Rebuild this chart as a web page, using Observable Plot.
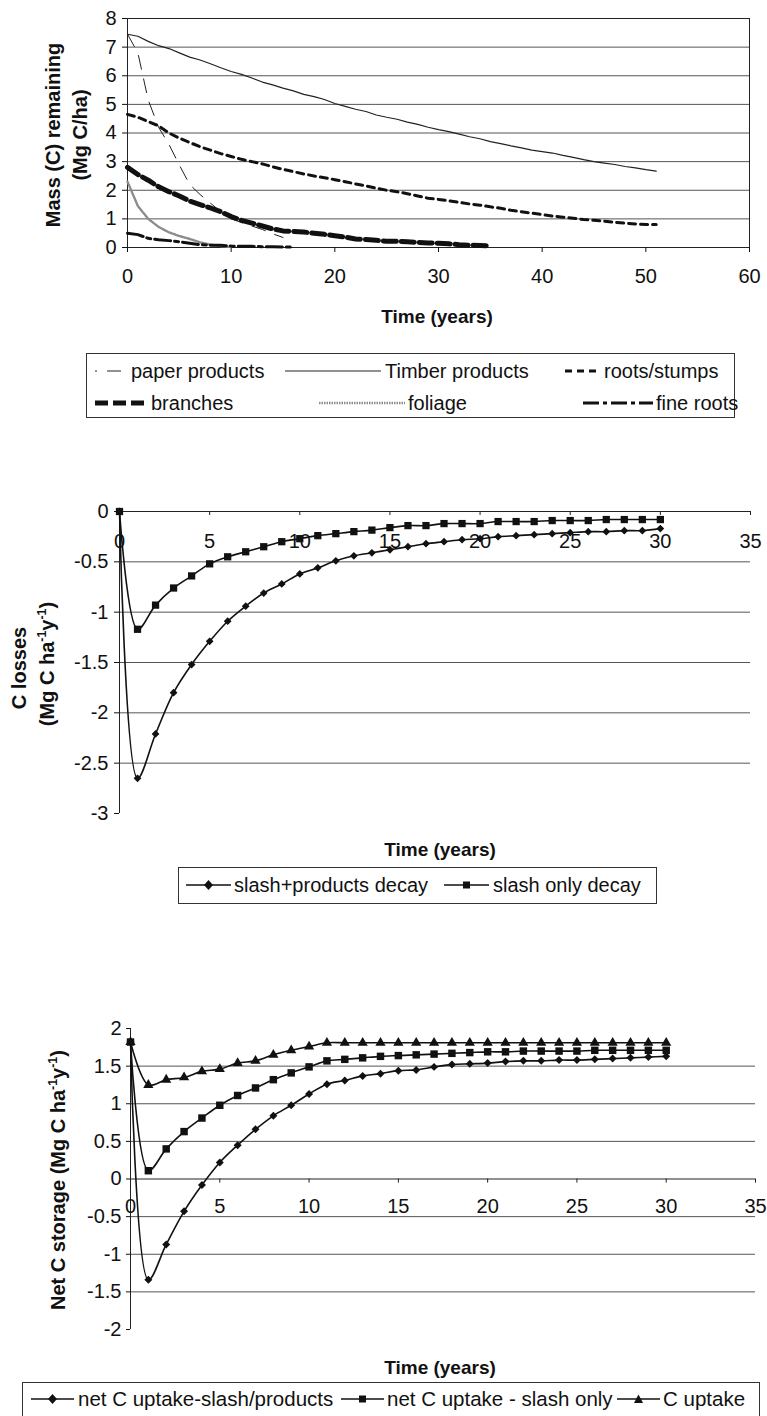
<!DOCTYPE html>
<html><head><meta charset="utf-8">
<script src="https://cdn.jsdelivr.net/npm/d3@7"></script>
<script src="https://cdn.jsdelivr.net/npm/@observablehq/plot@0.6"></script>
<style>
body{margin:0;background:#fff;}
#root{position:relative;width:767px;height:1416px;overflow:hidden;font-family:"Liberation Sans",Arial,sans-serif;color:#111;background:#fff;}
.panel{position:absolute;left:0;}
.panel svg{overflow:visible;}
.ytitle{position:absolute;transform:translate(-50%,-50%) rotate(-90deg);white-space:nowrap;font-weight:bold;font-size:20px;line-height:1;}
.xtitle{position:absolute;transform:translate(-50%,-50%);white-space:nowrap;font-weight:bold;font-size:19px;line-height:1;}
.legend{position:absolute;border:1px solid #333;box-sizing:border-box;}
.item{position:absolute;white-space:nowrap;font-size:20px;line-height:1;transform:translateY(-50%);}
.sample{position:absolute;transform:translateY(-50%);}
sup{font-size:62%;line-height:0;}
</style></head>
<body>
<div id="root"></div>
<script>
// ---------- Panel 1: mass remaining (Mg C/ha), yearly values from year 0 ----------
const paperProducts = [7.45, 6.8, 5.15, 4.2, 3.6, 2.88, 2.2, 1.85, 1.55, 1.25, 1.0, 0.87, 0.75, 0.63, 0.48, 0.35];
const timberProducts = [7.45, 7.38, 7.2, 7.05, 6.95, 6.8, 6.65, 6.55, 6.42, 6.28, 6.15, 6.05, 5.92, 5.78, 5.68, 5.57, 5.47, 5.35, 5.27, 5.17, 5.03, 4.93, 4.83, 4.75, 4.63, 4.55, 4.48, 4.38, 4.3, 4.2, 4.12, 4.05, 3.96, 3.87, 3.8, 3.7, 3.63, 3.55, 3.48, 3.4, 3.35, 3.3, 3.22, 3.15, 3.07, 3.0, 2.95, 2.9, 2.83, 2.78, 2.72, 2.67];
const rootsStumps = [4.65, 4.55, 4.4, 4.25, 4.0, 3.82, 3.67, 3.52, 3.4, 3.28, 3.18, 3.08, 3.0, 2.92, 2.82, 2.73, 2.65, 2.57, 2.5, 2.44, 2.37, 2.3, 2.22, 2.15, 2.07, 2.0, 1.95, 1.88, 1.8, 1.72, 1.68, 1.63, 1.58, 1.52, 1.48, 1.42, 1.37, 1.3, 1.25, 1.2, 1.15, 1.1, 1.06, 1.02, 0.98, 0.95, 0.92, 0.88, 0.85, 0.82, 0.8, 0.8];
const branches = [2.8, 2.55, 2.35, 2.12, 1.95, 1.8, 1.62, 1.5, 1.38, 1.25, 1.08, 0.95, 0.85, 0.75, 0.65, 0.58, 0.56, 0.54, 0.5, 0.46, 0.41, 0.36, 0.3, 0.28, 0.25, 0.22, 0.22, 0.2, 0.18, 0.16, 0.15, 0.13, 0.1, 0.08, 0.07, 0.06];
const foliage = [2.3, 1.45, 1.0, 0.72, 0.53, 0.4, 0.3, 0.18, 0.1, 0.05, 0.02];
const fineRoots = [0.5, 0.45, 0.32, 0.27, 0.24, 0.2, 0.15, 0.1, 0.08, 0.08, 0.05, 0.04, 0.04, 0.03, 0.03, 0.02, 0.02];
const xTicks1 = [0, 10, 20, 30, 40, 50, 60];
const yTicks1 = [0, 1, 2, 3, 4, 5, 6, 7, 8];
const seriesNames1 = ["paper products", "Timber products", "roots/stumps", "branches", "foliage", "fine roots"];

// ---------- Panel 2: C losses (Mg C ha-1 y-1), years 0..30 ----------
const slashProductsDecay = [0, -2.65, -2.21, -1.80, -1.52, -1.29, -1.09, -0.94, -0.81, -0.72, -0.62, -0.56, -0.49, -0.44, -0.41, -0.38, -0.35, -0.32, -0.30, -0.28, -0.27, -0.25, -0.24, -0.23, -0.22, -0.21, -0.20, -0.20, -0.19, -0.19, -0.17];
const slashOnlyDecay = [0, -1.17, -0.93, -0.76, -0.64, -0.52, -0.45, -0.40, -0.35, -0.30, -0.27, -0.24, -0.22, -0.20, -0.185, -0.16, -0.14, -0.14, -0.12, -0.12, -0.12, -0.10, -0.10, -0.10, -0.09, -0.09, -0.09, -0.08, -0.08, -0.08, -0.08];
const xTicks2 = [0, 5, 10, 15, 20, 25, 30, 35];
const yTicks2 = [0, -0.5, -1, -1.5, -2, -2.5, -3];
const grid2 = [-0.5, -1, -1.5, -2, -2.5];
const seriesNames2 = ["slash+products decay", "slash only decay"];

// ---------- Panel 3: Net C storage (Mg C ha-1 y-1), years 0..30 ----------
const netUptakeSlashProducts = [1.82, -1.34, -0.87, -0.43, -0.08, 0.22, 0.45, 0.66, 0.84, 0.98, 1.13, 1.26, 1.31, 1.37, 1.40, 1.44, 1.45, 1.49, 1.52, 1.53, 1.54, 1.56, 1.57, 1.57, 1.58, 1.58, 1.59, 1.60, 1.61, 1.62, 1.63];
const netUptakeSlashOnly = [1.82, 0.11, 0.40, 0.63, 0.81, 0.98, 1.11, 1.21, 1.32, 1.41, 1.49, 1.57, 1.59, 1.61, 1.63, 1.64, 1.65, 1.66, 1.67, 1.68, 1.69, 1.69, 1.70, 1.70, 1.70, 1.70, 1.71, 1.71, 1.71, 1.71, 1.71];
const cUptake = [1.82, 1.25, 1.32, 1.35, 1.43, 1.46, 1.54, 1.57, 1.65, 1.71, 1.76, 1.81, 1.81, 1.81, 1.81, 1.81, 1.81, 1.81, 1.81, 1.81, 1.81, 1.81, 1.81, 1.81, 1.81, 1.81, 1.81, 1.81, 1.81, 1.81, 1.81];
const xTicks3 = [0, 5, 10, 15, 20, 25, 30, 35];
const yTicks3 = [2, 1.5, 1, 0.5, 0, -0.5, -1, -1.5, -2];
const grid3 = [1.5, 1, 0.5, -0.5, -1, -1.5];
const seriesNames3 = ["net C uptake-slash/products", "net C uptake - slash only", "C uptake"];

// ---------- helpers ----------
const P = vals => vals.map((v, i) => ({t: i, v}));
const root = document.getElementById("root");
const baseStyle = {fontFamily: '"Liberation Sans", Arial, sans-serif', fontSize: "20px", color: "#111", background: "transparent", overflow: "visible"};
function place(el, top) { const d = document.createElement("div"); d.className = "panel"; d.style.top = top + "px"; d.appendChild(el); root.appendChild(d); }
function html(cls, x, y, inner) { const d = document.createElement("div"); d.className = cls; d.style.left = x + "px"; d.style.top = y + "px"; d.innerHTML = inner; root.appendChild(d); return d; }
const fmt = d => String(d);

// styles of panel-1 lines
const lineStyles1 = {
  "paper products": {stroke: "#222", strokeWidth: 1, strokeDasharray: "14,10"},
  "Timber products": {stroke: "#222", strokeWidth: 1.2},
  "roots/stumps": {stroke: "#111", strokeWidth: 3, strokeDasharray: "7,5"},
  "branches": {stroke: "#111", strokeWidth: 5, strokeDasharray: "13,5"},
  "foliage": {stroke: "#8c8c8c", strokeWidth: 2.4, strokeDasharray: "1.5,1"},
  "fine roots": {stroke: "#111", strokeWidth: 3, strokeDasharray: "16,4,4,4"}
};
const data1 = [paperProducts, timberProducts, rootsStumps, branches, foliage, fineRoots];

// ---------- Panel 1 ----------
const chart1 = Plot.plot({
  width: 767, height: 300, marginTop: 18, marginBottom: 53, marginLeft: 127, marginRight: 18,
  style: baseStyle,
  x: {domain: [0, 60]},
  y: {domain: [0, 8]},
  marks: [
    Plot.gridY(yTicks1.slice(1, -1), {stroke: "#555", strokeOpacity: 1}),
    Plot.frame({stroke: "#222"}),
    Plot.axisY({ticks: yTicks1, tickSize: 5, tickPadding: 6, label: null, tickFormat: fmt, fontSize: 20}),
    Plot.axisX({ticks: xTicks1, tickSize: 5, tickPadding: 16, label: null, tickFormat: fmt, fontSize: 20}),
    ...seriesNames1.map((name, i) => Plot.line(P(data1[i]), {x: "t", y: "v", ...lineStyles1[name]}))
  ]
});
place(chart1, 0);
html("ytitle", 53, 135, "Mass (C) remaining");
html("ytitle", 80, 135, "(Mg C/ha)");
html("xtitle", 437, 316, "Time (years)");

// legend 1
const leg1 = html("legend", 86, 353, "");
leg1.style.width = (735 - 86) + "px"; leg1.style.height = "65px";
const leg1Pos = [
  {sx: 8, sw: 34, tx: 44, y: 17}, {sx: 198, sw: 96, tx: 298, y: 17}, {sx: 478, sw: 36, tx: 517, y: 17},
  {sx: 8, sw: 52, tx: 64, y: 49}, {sx: 232, sw: 86, tx: 321, y: 49}, {sx: 496, sw: 70, tx: 569, y: 49}
];
seriesNames1.forEach((name, i) => {
  const p = leg1Pos[i], st = lineStyles1[name];
  const s = document.createElement("div"); s.className = "sample";
  s.style.left = p.sx + "px"; s.style.top = p.y + "px";
  const off = name === "paper products" ? 12 : 0;
  s.innerHTML = `<svg width="${p.sw}" height="10" style="display:block"><line x1="0" x2="${p.sw}" y1="5" y2="5" stroke="${st.stroke}" stroke-width="${st.strokeWidth}" ${st.strokeDasharray ? `stroke-dasharray="${st.strokeDasharray}" stroke-dashoffset="${off}"` : ""}/></svg>`;
  leg1.appendChild(s);
  const t = document.createElement("div"); t.className = "item"; t.style.left = p.tx + "px"; t.style.top = p.y + "px"; t.textContent = name;
  leg1.appendChild(t);
});

// ---------- Panel 2 ----------
const chart2 = Plot.plot({
  width: 767, height: 330, marginTop: 21, marginBottom: 7, marginLeft: 119, marginRight: 17,
  style: baseStyle,
  x: {domain: [0, 35], axis: null},
  y: {domain: [-3, 0]},
  marks: [
    Plot.gridY(grid2, {stroke: "#555", strokeOpacity: 1}),
    Plot.ruleY([0], {stroke: "#222"}),
    Plot.ruleX([0], {stroke: "#222"}),
    Plot.ruleX(xTicks2.slice(1), {x: d => d, y1: 0, y2: -0.04, stroke: "#222"}),
    Plot.text(xTicks2, {x: d => d, y: 0, dy: 30, text: fmt, fontSize: 20, lineAnchor: "middle"}),
    Plot.axisY({ticks: yTicks2, tickSize: 5, tickPadding: 6, label: null, tickFormat: fmt, fontSize: 20}),
    Plot.line(P(slashProductsDecay), {x: "t", y: "v", stroke: "#111", strokeWidth: 1.6, curve: "catmull-rom"}),
    Plot.line(P(slashOnlyDecay), {x: "t", y: "v", stroke: "#111", strokeWidth: 1.6, curve: "catmull-rom"}),
    Plot.dot(P(slashProductsDecay), {x: "t", y: "v", symbol: "diamond2", r: 3.5, fill: "#111", stroke: "none"}),
    Plot.dot(P(slashOnlyDecay), {x: "t", y: "v", symbol: "square", r: 4.1, fill: "#111", stroke: "none"})
  ]
});
place(chart2, 490);
html("ytitle", 19, 668, "C losses");
html("ytitle", 47, 664, "(Mg C ha<sup>-1</sup>y<sup>-1</sup>)");
html("xtitle", 440, 849, "Time (years)");

function markerSvg(sym, w) {
  const c = w / 2;
  let m = "";
  if (sym === "diamond") m = `<path d="M${c},1 L${c + 4.5},6 L${c},11 L${c - 4.5},6Z" fill="#111"/>`;
  if (sym === "square") m = `<rect x="${c - 3.5}" y="2.5" width="7" height="7" fill="#111"/>`;
  if (sym === "triangle") m = `<path d="M${c},1.5 L${c + 4.5},10 L${c - 4.5},10Z" fill="#111"/>`;
  return `<svg width="${w}" height="12" style="display:block"><line x1="0" x2="${w}" y1="6" y2="6" stroke="#111" stroke-width="1.5"/>${m}</svg>`;
}
const leg2 = html("legend", 178, 867, "");
leg2.style.width = (657 - 178) + "px"; leg2.style.height = "37px";
[{sym: "diamond", sx: 7, tx: 55}, {sym: "square", sx: 265, tx: 314}].forEach((p, i) => {
  const s = document.createElement("div"); s.className = "sample"; s.style.left = p.sx + "px"; s.style.top = "17px";
  s.innerHTML = markerSvg(p.sym, 45); leg2.appendChild(s);
  const t = document.createElement("div"); t.className = "item"; t.style.left = p.tx + "px"; t.style.top = "17px"; t.textContent = seriesNames2[i];
  leg2.appendChild(t);
});

// ---------- Panel 3 ----------
const chart3 = Plot.plot({
  width: 767, height: 330, marginTop: 18, marginBottom: 11, marginLeft: 130, marginRight: 12,
  style: baseStyle,
  x: {domain: [0, 35], axis: null},
  y: {domain: [-2, 2]},
  marks: [
    Plot.gridY(grid3, {stroke: "#555", strokeOpacity: 1}),
    Plot.ruleY([0], {stroke: "#222"}),
    Plot.ruleX([0], {stroke: "#222"}),
    Plot.ruleX(xTicks3.slice(1), {x: d => d, y1: 0, y2: -0.055, stroke: "#222"}),
    Plot.text(xTicks3, {x: d => d, y: 0, dy: 28, text: fmt, fontSize: 20, lineAnchor: "middle"}),
    Plot.axisY({ticks: yTicks3, tickSize: 4, tickPadding: 5, label: null, tickFormat: fmt, fontSize: 20}),
    Plot.line(P(netUptakeSlashProducts), {x: "t", y: "v", stroke: "#111", strokeWidth: 1.6, curve: "catmull-rom"}),
    Plot.line(P(netUptakeSlashOnly), {x: "t", y: "v", stroke: "#111", strokeWidth: 1.6, curve: "catmull-rom"}),
    Plot.line(P(cUptake), {x: "t", y: "v", stroke: "#111", strokeWidth: 1.6, curve: "catmull-rom"}),
    Plot.dot(P(netUptakeSlashProducts), {x: "t", y: "v", symbol: "diamond2", r: 3.6, fill: "#111", stroke: "none"}),
    Plot.dot(P(netUptakeSlashOnly), {x: "t", y: "v", symbol: "square", r: 4.2, fill: "#111", stroke: "none"}),
    Plot.dot(P(cUptake), {x: "t", y: "v", symbol: "triangle", r: 3.8, fill: "#111", stroke: "none"})
  ]
});
place(chart3, 1010);
html("ytitle", 58, 1180, "Net C storage (Mg C ha<sup>-1</sup>y<sup>-1</sup>)");
html("xtitle", 440, 1367, "Time (years)");

const leg3 = html("legend", 22, 1382, "");
leg3.style.width = (760 - 22) + "px"; leg3.style.height = "50px";
[{sym: "diamond", sx: 8, tx: 55}, {sym: "square", sx: 318, tx: 364}, {sym: "triangle", sx: 594, tx: 640}].forEach((p, i) => {
  const s = document.createElement("div"); s.className = "sample"; s.style.left = p.sx + "px"; s.style.top = "16px";
  s.innerHTML = markerSvg(p.sym, 43); leg3.appendChild(s);
  const t = document.createElement("div"); t.className = "item"; t.style.left = p.tx + "px"; t.style.top = "16px"; t.style.fontSize = "20.5px"; t.textContent = seriesNames3[i];
  leg3.appendChild(t);
});
</script>
</body></html>
